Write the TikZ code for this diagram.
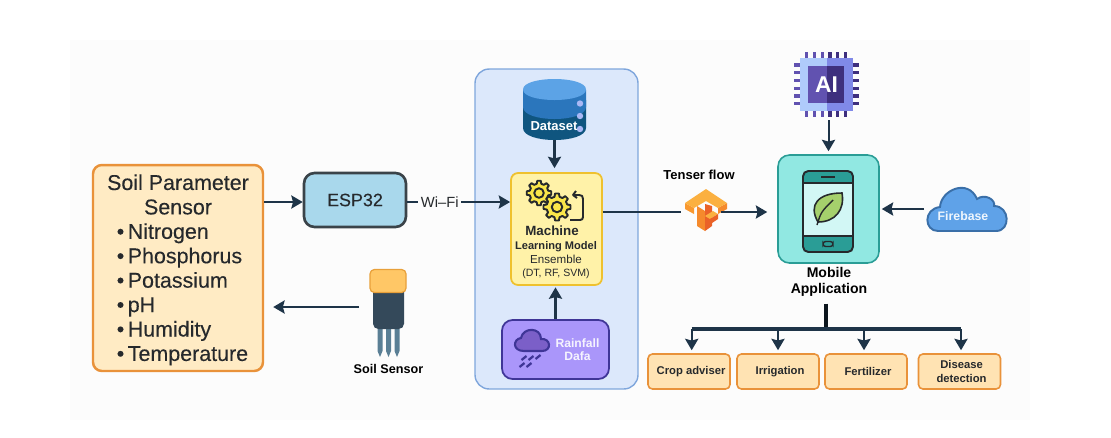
\documentclass[tikz,border=0pt]{standalone}
\usepackage{fontspec}
\setmainfont{Liberation Sans}
\newfontfamily\mediumfont[FakeBold=0.2]{Liberation Sans}
\usetikzlibrary{arrows.meta, positioning, calc}
\definecolor{agridark}{HTML}{1E3448}
\definecolor{agritext}{HTML}{26292C}
\definecolor{agriorange}{HTML}{E9923A}
\definecolor{agricream}{HTML}{FFEBC4}
\definecolor{agritile}{HTML}{FFE3B3}
\definecolor{agriblue}{HTML}{A9D8EC}
\definecolor{agripanel}{HTML}{DCE8FB}
\definecolor{agripaneledge}{HTML}{7FA6DC}
\definecolor{agriyellow}{HTML}{FFF2A8}
\definecolor{agrigold}{HTML}{EFC12E}
\definecolor{agrigear}{HTML}{FAE64A}
\definecolor{agriviolet}{HTML}{AA96FA}
\definecolor{agrivioletdark}{HTML}{3F3597}
\definecolor{agricloud}{HTML}{7B5FC8}
\definecolor{agriteal}{HTML}{91E8E2}
\definecolor{agritealdark}{HTML}{2A9D96}
\definecolor{agriscreen}{HTML}{D2F7F5}
\definecolor{agrileaf}{HTML}{A5D06C}
\definecolor{agrifire}{HTML}{5FA2E8}
\definecolor{agrifireedge}{HTML}{3A6FA8}
\definecolor{dbtop}{HTML}{5CA3E6}
\definecolor{dbmid}{HTML}{2B76BC}
\definecolor{dblow}{HTML}{0F557F}
\definecolor{dbdot}{HTML}{A9B8F5}
\definecolor{chiplight}{HTML}{AFCBFB}
\definecolor{chipmid}{HTML}{8089E8}
\definecolor{chipcore}{HTML}{6152B0}
\definecolor{chipdeep}{HTML}{3E2F7E}
\definecolor{tfyellow}{HTML}{FBB040}
\definecolor{tfamber}{HTML}{F9982F}
\definecolor{tforange}{HTML}{F58A2C}
\definecolor{tfdeep}{HTML}{EA6228}
\definecolor{sensorcap}{HTML}{FFC766}
\definecolor{sensorcapedge}{HTML}{E8A03A}
\definecolor{sensorbody}{HTML}{34495A}
\definecolor{sensorpin}{HTML}{5A7F95}
\definecolor{pagetint}{HTML}{FCFCFC}
\newcommand{\pxfont}[2]{\fontsize{#1}{#2}\selectfont}
\newcommand{\paramitem}[1]{\makebox[2.52cm][l]{\hspace{1pt}\textbullet\hspace{2pt}#1}}
\newcommand{\geardraw}[3]{%
  \filldraw[draw=agritext, fill=agrigear, line width=1.1pt, line join=round]
    ([shift={(#1,#2)}]-14:#3)
    \foreach \a in {0,45,...,315} {
      -- ([shift={(#1,#2)}]\a-14:#3) -- ([shift={(#1,#2)}]\a-8:#3*1.3)
      -- ([shift={(#1,#2)}]\a+8:#3*1.3) -- ([shift={(#1,#2)}]\a+14:#3)
    } -- cycle;
  \filldraw[draw=agritext, fill=agrigear, line width=1.1pt] (#1,#2) circle[radius=#3*0.5];
}
\begin{document}
\begin{tikzpicture}[
  x=0.02cm, y=-0.02cm,
  iconbox/.style={inner sep=0pt, outer sep=0pt},
  soilbox/.style={
    rectangle, rounded corners=5pt, line width=1.4pt,
    minimum width=3.4cm, minimum height=4.12cm,
    draw=agriorange, fill=agricream, inner sep=0pt,
    font=\mediumfont\pxfont{12.2}{13.9}, text=agritext, align=center
  },
  tile/.style={
    rectangle, rounded corners=2.5pt, line width=0.9pt,
    minimum width=1.64cm, minimum height=0.7cm, inner sep=0pt,
    draw=agriorange, fill=agritile,
    font=\pxfont{6.4}{8}\bfseries, text=agritext, align=center
  },
  boldlabel/.style={font=\pxfont{8}{9.1}\bfseries, text=black, align=center, inner sep=1pt},
  arr/.style={-{Stealth[length=6.5pt, width=7.5pt, inset=1pt]}, line width=1.15pt, agridark},
  plainline/.style={line width=1.15pt, agridark},
  busline/.style={line width=1.8pt, agridark}
]
  \useasboundingbox (0,0) rectangle (1111,437);
  \fill[white] (0,0) rectangle (1111,437);
  \fill[pagetint] (70,40) rectangle (1030,420);

  % Left side
  \node[soilbox] (soil) at (178,268) {\rule{0pt}{11pt}Soil Parameter\\Sensor\\
    \paramitem{Nitrogen}\\\paramitem{Phosphorus}\\\paramitem{Potassium}\\
    \paramitem{pH}\\\paramitem{Humidity}\\\paramitem{Temperature}};
  \node[rectangle, rounded corners=6pt, line width=1.5pt, minimum width=2.04cm,
    minimum height=1.08cm, draw=agritext!85!agriblue, fill=agriblue,
    font=\mediumfont\pxfont{10.2}{12}, text=agritext] (esp32) at (355,200) {ESP32};

  \node[iconbox, minimum width=1.18cm, minimum height=1.96cm] (sensor) at (388.5,307) {};
  \fill[sensorpin] \foreach \p in {380,388.5,397} {
    (\p-2.5,329) -- (\p+2.5,329) -- (\p+2.5,351) -- (\p,357) -- (\p-2.5,351) -- cycle};
  \fill[sensorbody, rounded corners=3pt] (373,285) -- (404,285) -- (404,329) -- (373,329) -- cycle;
  \filldraw[draw=sensorcapedge, fill=sensorcap, line width=0.7pt, rounded corners=2.5pt]
    (370,292.5) -- (370,269.5) -- (406,269.5) -- (406,292.5) -- cycle;
  \node[boldlabel, font=\pxfont{7.2}{8}\bfseries] (sensorlabel) at (388.5,368.5) {Soil Sensor};

  \draw[arr] ([yshift=-0.04cm]esp32.west -| soil.east) -- ([yshift=-0.04cm]esp32.west);
  \draw[arr, shorten >=0.18cm] (sensor.west) -- (sensor.west -| soil.east);

  % Middle panel
  \node[rectangle, rounded corners=8pt, line width=0.8pt, minimum width=3.26cm,
    minimum height=6.4cm, draw=agripaneledge, fill=agripanel] (panel) at (556.5,229) {};

  \node[iconbox, minimum width=1.26cm, minimum height=1.22cm] (dataset) at (554.5,109.5) {};
  \fill[dblow] (523,100) -- (523,128) .. controls (523,144) and (586,144) .. (586,128) -- (586,100) -- cycle;
  \fill[dbmid] (523,90) -- (523,107) .. controls (523,123) and (586,123) .. (586,107) -- (586,90) -- cycle;
  \fill[dbtop] (523,89.5) .. controls (523,75.5) and (586,75.5) .. (586,89.5)
    .. controls (586,103.5) and (523,103.5) .. (523,89.5) -- cycle;
  \foreach \y in {103.5,116,129} \fill[dbdot] (580,\y) circle[radius=3.2];
  \node[font=\pxfont{7.4}{8}\bfseries, text=white, inner sep=0pt] (datasetlabel) at (554,126) {Dataset};

  \node[rectangle, rounded corners=4pt, line width=1pt, minimum width=1.82cm,
    minimum height=2.24cm, draw=agrigold, fill=agriyellow] (mlmodel) at (556.5,229) {};
  \geardraw{539}{193}{9.5}
  \geardraw{557}{207}{10.5}
  \draw[line width=1.1pt, agritext, line join=round]
    (576,191) -- (573,195) -- (577,198) (573,195) -- (579,195)
    .. controls (582,195) and (583,196) .. (583,199) -- (583,217)
    .. controls (583,219) and (582,220) .. (580,220) -- (570,220);
  \node[inner sep=0pt, align=center, text=agritext, font=\pxfont{6.6}{7.8}] (mllabel) at (556,252.5) {%
    {\pxfont{7.6}{7.8}\bfseries\hspace*{-4.5pt}Machine}\\
    {\pxfont{6.3}{8.2}\bfseries Learning Model}\\
    Ensemble\\
    {\pxfont{6}{7.4}(DT, RF, SVM)}};

  \node[rectangle, rounded corners=6pt, line width=1pt, minimum width=2.14cm,
    minimum height=1.18cm, draw=agrivioletdark, fill=agriviolet] (rain) at (555.5,349.5) {};
  \filldraw[draw=agrivioletdark, fill=agricloud, line width=1.2pt]
    (524,351) .. controls (512,351) and (513,339) .. (521,338)
    .. controls (523,327) and (541,327) .. (541,339)
    .. controls (551,338) and (552,351) .. (542,351) -- cycle;
  \draw[agrivioletdark, line width=1.3pt] \foreach \dropx/\dropy in {524/358,531/358,538/357,522/365,529/365} {
    (\dropx+2.5,\dropy-2) -- (\dropx-2.5,\dropy+2)};
  \node[inner sep=0pt, align=center, text=white!88!agriviolet, font=\pxfont{6.9}{7.6}\bfseries]
    (rainlabel) at (577.5,349.5) {Rainfall\\Dafa};

  \draw[arr, shorten >=0.08cm] (dataset.south) -- (dataset.south |- mlmodel.north);
  \draw[arr, shorten >=0.03cm] (rain.north) -- (rain.north |- mlmodel.south);
  \draw[arr] ([yshift=-0.04cm]esp32.east) -- ([yshift=-0.04cm]esp32.east -| mlmodel.west)
    node[pos=0.315, fill=pagetint, inner sep=1.5pt, font=\pxfont{8.4}{10}, text=agritext] (wifi) {Wi--Fi};

  % Tensor flow logo
  \node[iconbox, minimum width=0.8cm, minimum height=0.84cm] (tfflow) at (701,212) {};
  \fill[tfamber] (685,203) -- (694,208) -- (694,214) -- (685,209) -- cycle;
  \fill[tforange] (718,208) -- (727,203) -- (727,209) -- (718,214) -- cycle;
  \fill[tforange] (697,206) -- (705,211) -- (705,231) -- (697,226) -- cycle;
  \fill[tfdeep] (705,204) -- (712,206) -- (712,226) -- (705,231) -- cycle;
  \fill[tfyellow] (685,203) -- (706,189) -- (727,203) -- (718,208) -- (706,201) -- (694,208) -- cycle;
  \fill[tfyellow] (705,216) -- (713,211) -- (718,214) -- (710,219) -- cycle;
  \fill[tfdeep] (710,219) -- (718,214) -- (718,219) -- (712,223) -- cycle;
  \node[boldlabel, font=\pxfont{7.4}{8}\bfseries] (tflabel) at (699,175) {Tenser flow};

  \draw[plainline] (mlmodel.east |- tfflow.west) -- (tfflow.west);

  % Mobile application
  \node[rectangle, rounded corners=6.5pt, line width=0.9pt, minimum width=2.02cm,
    minimum height=2.16cm, draw=agritealdark, fill=agriteal] (mobile) at (828.5,209) {};
  \filldraw[draw=agritext, fill=agritealdark, line width=1.1pt, rounded corners=3pt]
    (803,171) rectangle (853,252);
  \fill[agriscreen] (803.8,183) rectangle (852.2,236);
  \draw[agritext, line width=0.8pt] (803,183) -- (853,183) (803,236) -- (853,236);
  \draw[agritext, line width=1pt] (821,177) -- (835,177);
  \draw[agritext, line width=0.8pt, rounded corners=1.5pt] (823,241.5) rectangle (833,246.5);
  \filldraw[draw=agritext, fill=agrileaf, line width=0.9pt]
    (818,222) .. controls (808,205) and (818,193) .. (842,193)
    .. controls (845,210) and (835,222) .. (818,222) -- cycle;
  \draw[agritext, line width=0.8pt] (817,225) .. controls (821,212) .. (833,200);
  \node[boldlabel] (mobilelabel) at (829,282) {Mobile\\Application};

  \draw[arr, shorten >=0.2cm] (tfflow.east) -- (tfflow.east -| mobile.west);

  % AI chip
  \node[iconbox, minimum width=1.3cm, minimum height=1.3cm] (aichip) at (826.5,84.5) {};
  \foreach \p in {806.7,814.3,822.3} {
    \draw[chipcore, line width=2pt] (\p,52) -- (\p,117);
  }
  \foreach \p in {830,837.7,845.7} {
    \draw[chipdeep, line width=2pt] (\p,52) -- (\p,117);
  }
  \foreach \p in {65,72.7,80.7,88.3,96,103.7} {
    \draw[chipcore, line width=2pt] (794,\p) -- (826,\p);
    \draw[chipdeep, line width=2pt] (826,\p) -- (859,\p);
  }
  \fill[chiplight] (800,58) rectangle (826.5,111);
  \fill[chipmid] (826.5,58) rectangle (853,111);
  \fill[chipcore] (808,66) rectangle (826.5,103);
  \fill[chipdeep] (826.5,66) rectangle (844,103);
  \node[inner sep=0pt, font=\pxfont{13}{13}\bfseries, text=white] (ailabel) at (826.5,85) {AI};

  % Firebase
  \node[iconbox, minimum width=1.66cm, minimum height=0.96cm] (firebase) at (965.5,209) {};
  \filldraw[draw=agrifireedge, fill=agrifire, line width=1.1pt]
    (938,231) .. controls (924,231) and (923,209) .. (940,207)
    .. controls (941,190) and (968,178) .. (977,199)
    .. controls (985,193) and (996,200) .. (994,206)
    .. controls (1010,206) and (1011,231) .. (996,231) -- cycle;
  \node[inner sep=0pt, font=\pxfont{7}{8}\bfseries, text=white!90!agrifire] (firelabel) at (963,216) {Firebase};

  \draw[arr, shorten <=0.06cm, shorten >=0.06cm] (aichip.south -| mobile.north) -- (mobile.north);
  \draw[arr, shorten >=0.04cm] (firebase.west) -- (mobile.east);

  % Outputs
  \node[tile] (crop) at (689,371.5) {\hspace*{2.3pt}Crop adviser};
  \node[tile] (irrigation) at (778,371.5) {\hspace*{2.3pt}Irrigation};
  \node[tile] (fertilizer) at (866,371.5) {\hspace*{2.3pt}Fertilizer};
  \node[tile] (disease) at (959.5,371.5) {\hspace*{2.3pt}Disease\\\hspace*{2.3pt}detection};

  \coordinate (bus) at (826,329);
  \draw[busline, line width=1.9pt, agridark!40!black] (mobilelabel.south -| bus) ++(0,5) -- (bus);
  \draw[busline] ([xshift=0.054cm]crop.north |- bus) -- ([xshift=0.03cm]disease.north |- bus);
  \foreach \outbox/\dx in {crop/0.054, irrigation/0, fertilizer/-0.04, disease/0.03} {
    \draw[arr, shorten >=0.06cm] ([xshift=\dx cm]\outbox.north |- bus) -- ([xshift=\dx cm]\outbox.north);
  }
\end{tikzpicture}
\end{document}
